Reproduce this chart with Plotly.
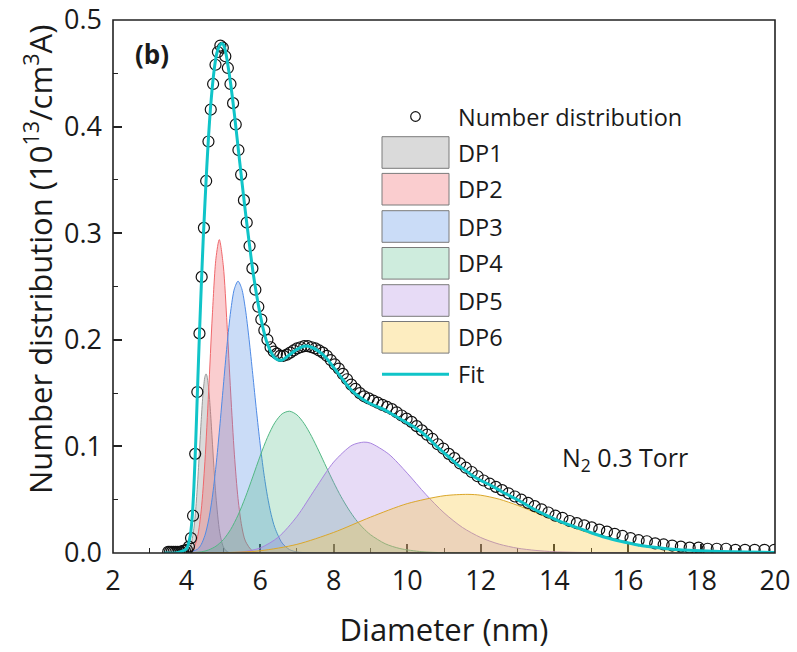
import plotly.graph_objects as go

# ---- measured size distribution (N2, 0.3 Torr) ----
diameter = [
    3.500, 3.548, 3.597, 3.646, 3.696, 3.746, 3.798, 3.850, 3.903, 3.956,
    4.010, 4.065, 4.121, 4.177, 4.235, 4.293, 4.351, 4.411, 4.472, 4.533,
    4.595, 4.658, 4.722, 4.787, 4.852, 4.919, 4.986, 5.054, 5.123, 5.194,
    5.265, 5.337, 5.410, 5.484, 5.560, 5.636, 5.713, 5.791, 5.871, 5.951,
    6.033, 6.115, 6.199, 6.284, 6.370, 6.457, 6.546, 6.635, 6.726, 6.819,
    6.912, 7.007, 7.103, 7.200, 7.299, 7.399, 7.500, 7.603, 7.707, 7.813,
    7.920, 8.029, 8.139, 8.250, 8.363, 8.478, 8.594, 8.711, 8.831, 8.952,
    9.075, 9.199, 9.325, 9.453, 9.582, 9.714, 9.847, 9.982, 10.118, 10.257,
    10.398, 10.540, 10.685, 10.831, 10.980, 11.130, 11.283, 11.437, 11.594, 11.753,
    11.914, 12.077, 12.243, 12.410, 12.580, 12.753, 12.927, 13.104, 13.284, 13.466,
    13.651, 13.838, 14.028, 14.220, 14.415, 14.612, 14.812, 15.015, 15.221, 15.430,
    15.641, 15.855, 16.072, 16.293, 16.516, 16.742, 16.972, 17.204, 17.440, 17.679,
    17.922, 18.168, 18.417, 18.669, 18.925, 19.184, 19.447, 19.713, 19.983,
]
number_dist = [
    0.001, 0.001, 0.001, 0.001, 0.001, 0.001, 0.001, 0.001, 0.002, 0.002,
    0.003, 0.006, 0.014, 0.035, 0.093, 0.151, 0.206, 0.259, 0.305, 0.349,
    0.386, 0.416, 0.440, 0.458, 0.470, 0.476, 0.474, 0.466, 0.455, 0.440,
    0.422, 0.402, 0.378, 0.355, 0.331, 0.310, 0.288, 0.267, 0.247, 0.231,
    0.219, 0.209, 0.200, 0.193, 0.189, 0.187, 0.185, 0.185, 0.186, 0.188,
    0.190, 0.192, 0.193, 0.194, 0.194, 0.193, 0.192, 0.190, 0.188, 0.185,
    0.181, 0.177, 0.173, 0.168, 0.163, 0.158, 0.154, 0.150, 0.147, 0.145,
    0.143, 0.141, 0.139, 0.137, 0.135, 0.132, 0.129, 0.126, 0.123, 0.119,
    0.115, 0.111, 0.107, 0.102, 0.098, 0.093, 0.089, 0.084, 0.080, 0.076,
    0.072, 0.068, 0.065, 0.062, 0.059, 0.056, 0.053, 0.050, 0.047, 0.044,
    0.041, 0.038, 0.035, 0.033, 0.030, 0.028, 0.026, 0.024, 0.022, 0.020,
    0.018, 0.016, 0.014, 0.012, 0.011, 0.009, 0.008, 0.007, 0.006, 0.005,
    0.005, 0.004, 0.004, 0.004, 0.003, 0.003, 0.003, 0.003, 0.003,
]

# ---- cumulative fit ----
fit_x = [3.40, 3.70, 3.90, 4.00, 4.10, 4.15, 4.20, 4.25, 4.30, 4.35,
         4.40, 4.45, 4.50, 4.55, 4.60, 4.65, 4.70, 4.75, 4.80, 4.85,
         4.90, 4.95, 5.00, 5.05, 5.10, 5.20, 5.30, 5.40, 5.50, 5.60,
         5.70, 5.80, 5.90, 6.00, 6.10, 6.20, 6.30, 6.40, 6.50, 6.60,
         6.80, 7.00, 7.20, 7.40, 7.60, 7.80, 8.00, 8.20, 8.40, 8.60,
         8.80, 9.00, 9.20, 9.40, 9.60, 9.80, 10.0, 10.2, 10.4, 10.6,
         10.8, 11.0, 11.2, 11.4, 11.6, 11.8, 12.0, 12.3, 12.6, 13.0,
         13.4, 13.8, 14.2, 14.6, 15.0, 15.4, 15.8, 16.2, 16.6, 17.0,
         17.4, 17.8, 18.5, 19.2, 20.0]
fit_y = [0.000, 0.000, 0.002, 0.004, 0.016, 0.032, 0.062, 0.105, 0.156, 0.205,
         0.250, 0.292, 0.328, 0.362, 0.392, 0.417, 0.437, 0.453, 0.465, 0.472,
         0.476, 0.478, 0.477, 0.472, 0.463, 0.440, 0.412, 0.381, 0.350, 0.320,
         0.292, 0.265, 0.243, 0.224, 0.208, 0.196, 0.188, 0.183, 0.181, 0.181,
         0.186, 0.191, 0.194, 0.193, 0.189, 0.183, 0.174, 0.165, 0.156, 0.149,
         0.144, 0.140, 0.137, 0.134, 0.130, 0.126, 0.122, 0.118, 0.113, 0.107,
         0.100, 0.094, 0.088, 0.082, 0.077, 0.072, 0.068, 0.063, 0.057, 0.050,
         0.042, 0.035, 0.029, 0.024, 0.019, 0.0145, 0.011, 0.008, 0.0058, 0.0042,
         0.003, 0.0023, 0.0015, 0.0009, 0.0004]

# ---- deconvoluted peaks DP1..DP6 ----
dp1_x = [3.5, 4.0, 4.1, 4.2, 4.25, 4.3, 4.35, 4.4, 4.45, 4.5, 4.53, 4.55,
         4.6, 4.65, 4.7, 4.75, 4.8, 4.9, 5.0, 5.1, 5.2, 5.4, 20.0]
dp1_y = [0, 0.0008, 0.0054, 0.0232, 0.0411, 0.0656, 0.0952, 0.1253, 0.1505, 0.1655, 0.168, 0.1668,
         0.1549, 0.1326, 0.1050, 0.0771, 0.0526, 0.0199, 0.0058, 0.0013, 0.0002, 0, 0]

dp2_x = [3.5, 4.0, 4.1, 4.2, 4.3, 4.4, 4.5, 4.6, 4.7, 4.8, 4.89,
         5.0, 5.1, 5.2, 5.3, 5.4, 5.5, 5.6, 5.8, 6.0, 6.3, 20.0]
dp2_y = [0, 0.0002, 0.0012, 0.0048, 0.0155, 0.0404, 0.0860, 0.1513, 0.2223, 0.2765, 0.294,
         0.2692, 0.2146, 0.1501, 0.0927, 0.0510, 0.0251, 0.0112, 0.0016, 0.0002, 0, 0]

dp3_x = [3.5, 4.0, 4.3, 4.4, 4.5, 4.6, 4.7, 4.8, 4.9, 5.0, 5.1, 5.2, 5.3, 5.4,
         5.5, 5.6, 5.7, 5.8, 5.9, 6.0, 6.1, 6.2, 6.3, 6.4, 6.6, 6.8, 7.0, 7.4, 20.0]
dp3_y = [0, 0.0002, 0.0036, 0.0081, 0.0166, 0.0309, 0.0523, 0.0815, 0.1173, 0.1567, 0.1949, 0.2269, 0.2478, 0.255,
         0.2480, 0.2288, 0.2005, 0.1676, 0.1339, 0.1024, 0.0752, 0.0531, 0.0362, 0.0238, 0.0093, 0.0032, 0.0010, 0.0001, 0]

dp4_x = [3.5, 4.0, 4.4, 4.6, 4.8, 5.0, 5.2, 5.4, 5.6, 5.8, 6.0, 6.2, 6.4, 6.6, 6.8, 7.0,
         7.2, 7.4, 7.6, 7.8, 8.0, 8.2, 8.4, 8.6, 8.8, 9.0, 9.4, 9.8, 10.4, 11.0, 12.0, 20.0]
dp4_y = [0, 0.0001, 0.0011, 0.0029, 0.0064, 0.0125, 0.0221, 0.0355, 0.0523, 0.0714, 0.0909, 0.1085, 0.1222, 0.1306, 0.1330, 0.1296,
         0.1213, 0.1094, 0.0954, 0.0806, 0.0662, 0.0529, 0.0413, 0.0314, 0.0235, 0.0172, 0.0087, 0.0042, 0.0012, 0.0003, 0, 0]

dp5_x = [3.5, 5.0, 5.5, 6.0, 6.5, 7.0, 7.5, 8.0, 8.5, 8.82, 9.0, 9.5, 10.0, 10.5,
         11.0, 11.5, 12.0, 12.5, 13.0, 13.5, 14.0, 15.0, 16.0, 20.0]
dp5_y = [0, 0.0001, 0.0010, 0.0047, 0.0150, 0.0342, 0.0602, 0.0853, 0.1011, 0.104, 0.1031, 0.0927, 0.0749, 0.0552,
         0.0377, 0.0240, 0.0145, 0.0083, 0.0045, 0.0024, 0.0012, 0.0003, 0, 0]

dp6_x = [3.5, 4.0, 5.0, 6.0, 7.0, 8.0, 9.0, 10.0, 11.0, 11.65, 12.0, 12.5, 13.0, 13.5,
         14.0, 14.5, 15.0, 15.5, 16.0, 16.5, 17.0, 17.5, 18.0, 19.0, 20.0]
dp6_y = [0, 0.00001, 0.0003, 0.0021, 0.0081, 0.0193, 0.0336, 0.0463, 0.0537, 0.055, 0.0542, 0.0505, 0.0447, 0.0378,
         0.0307, 0.0240, 0.0182, 0.0134, 0.0096, 0.0068, 0.0046, 0.0031, 0.0021, 0.0009, 0.0004]

peak_names = ["DP1", "DP2", "DP3", "DP4", "DP5", "DP6"]
peak_x = [dp1_x, dp2_x, dp3_x, dp4_x, dp5_x, dp6_x]
peak_y = [dp1_y, dp2_y, dp3_y, dp4_y, dp5_y, dp6_y]
peak_line = ["#9a9a9a", "#f0686c", "#4f8be6", "#52b884", "#a985e0", "#dba72a"]
peak_fill = ["rgba(150,150,150,0.35)", "rgba(240,90,95,0.30)", "rgba(80,140,230,0.30)",
             "rgba(60,180,120,0.25)", "rgba(160,110,220,0.25)", "rgba(250,200,60,0.32)"]
fit_color = "#10c4c8"

FONT = "Open Sans"
TXT = "#1a1a1a"

fig = go.Figure()

for name, xs, ys, lc, fc in zip(peak_names, peak_x, peak_y, peak_line, peak_fill):
    fig.add_trace(go.Scatter(
        x=xs, y=ys, name=name, mode="lines", fill="tozeroy", fillcolor=fc,
        line=dict(color=lc, width=1, shape="spline", smoothing=0.8),
        showlegend=False, hoverinfo="skip"))

fig.add_trace(go.Scatter(
    x=diameter, y=number_dist, name="Number distribution", mode="markers",
    marker=dict(symbol="circle-open", size=11, color="#111111", line=dict(width=1.2)),
    showlegend=False))

fig.add_trace(go.Scatter(
    x=fit_x, y=fit_y, name="Fit", mode="lines",
    line=dict(color=fit_color, width=3, shape="spline", smoothing=0.6),
    showlegend=False))

# ---- layout geometry (pixels of the 797 x 652 canvas) ----
W, H = 797, 652
L, R, T, B = 113, 22, 20, 99
PW, PH = W - L - R, H - T - B


def px_x(px):
    return (px - L) / PW


def px_y(py):
    return (H - B - py) / PH


shapes = []
annotations = []

# plot frame drawn over the filled peaks
shapes.append(dict(type="rect", xref="paper", yref="paper", x0=0, x1=1, y0=0, y1=1,
                   line=dict(color="#222222", width=1.6), layer="above"))

# hand-built legend
box_x0, box_x1 = px_x(382), px_x(449)
text_x = px_x(456)
row_centers = [152.5, 189.2, 226.5, 263.3, 300.5, 337.3]
half_h = 15.8
LEG_SIZE = 23.5

shapes.append(dict(type="circle", xref="paper", yref="paper",
                   xsizemode="pixel", ysizemode="pixel",
                   xanchor=px_x(415.5), yanchor=px_y(116.5),
                   x0=-4.8, x1=4.8, y0=-4.8, y1=4.8,
                   line=dict(color="#111111", width=1.2), layer="above"))
annotations.append(dict(xref="paper", yref="paper", x=text_x, y=px_y(116.5),
                        text="Number distribution", showarrow=False,
                        xanchor="left", yanchor="middle",
                        font=dict(family=FONT, size=LEG_SIZE, color=TXT)))

for name, fc, cy in zip(peak_names, peak_fill, row_centers):
    shapes.append(dict(type="rect", xref="paper", yref="paper",
                       x0=box_x0, x1=box_x1, y0=px_y(cy + half_h), y1=px_y(cy - half_h),
                       fillcolor=fc, line=dict(color="#7a7a7a", width=1), layer="above"))
    annotations.append(dict(xref="paper", yref="paper", x=text_x, y=px_y(cy),
                            text=name, showarrow=False, xanchor="left", yanchor="middle",
                            font=dict(family=FONT, size=LEG_SIZE, color=TXT)))

shapes.append(dict(type="line", xref="paper", yref="paper",
                   x0=box_x0, x1=box_x1, y0=px_y(374.3), y1=px_y(374.3),
                   line=dict(color=fit_color, width=3), layer="above"))
annotations.append(dict(xref="paper", yref="paper", x=text_x, y=px_y(374.3),
                        text="Fit", showarrow=False, xanchor="left", yanchor="middle",
                        font=dict(family=FONT, size=LEG_SIZE, color=TXT)))

# panel label and condition
annotations.append(dict(xref="paper", yref="paper", x=px_x(133), y=px_y(54),
                        text="<b>(b)</b>", showarrow=False, xanchor="left", yanchor="middle",
                        font=dict(family=FONT, size=26, color=TXT)))
annotations.append(dict(xref="paper", yref="paper", x=px_x(560), y=px_y(458),
                        text="N<sub>2</sub> 0.3 Torr", showarrow=False,
                        xanchor="left", yanchor="middle",
                        font=dict(family=FONT, size=25, color=TXT)))

# y-axis title placed as rotated text
annotations.append(dict(xref="paper", yref="paper", x=px_x(38), y=px_y(260),
                        text="Number distribution (10<sup>13</sup>/cm<sup>3</sup>A)",
                        textangle=-90, showarrow=False, xanchor="center", yanchor="middle",
                        font=dict(family=FONT, size=31, color=TXT)))

axis_common = dict(
    showgrid=False, zeroline=False, showline=False,
    ticks="inside", ticklen=9, tickwidth=1.5, tickcolor="#222222",
    layer="below traces", automargin=False,
    tickfont=dict(family=FONT, size=27, color=TXT),
)

fig.update_layout(
    width=W, height=H,
    margin=dict(l=L, r=R, t=T, b=B),
    paper_bgcolor="white", plot_bgcolor="white",
    showlegend=False,
    shapes=shapes, annotations=annotations,
    xaxis=dict(
        range=[2, 20], tick0=2, dtick=2,
        minor=dict(ticks="inside", ticklen=5, tickwidth=1.2, tickcolor="#222222", dtick=1),
        title=dict(text="Diameter (nm)", standoff=22,
                   font=dict(family=FONT, size=31, color=TXT)),
        ticklabelstandoff=9,
        **axis_common),
    yaxis=dict(
        range=[0, 0.5], tick0=0, dtick=0.1, tickformat=".1f",
        minor=dict(ticks="inside", ticklen=5, tickwidth=1.2, tickcolor="#222222", dtick=0.05),
        ticklabelstandoff=10,
        **axis_common),
)

fig.write_html("out.html")
